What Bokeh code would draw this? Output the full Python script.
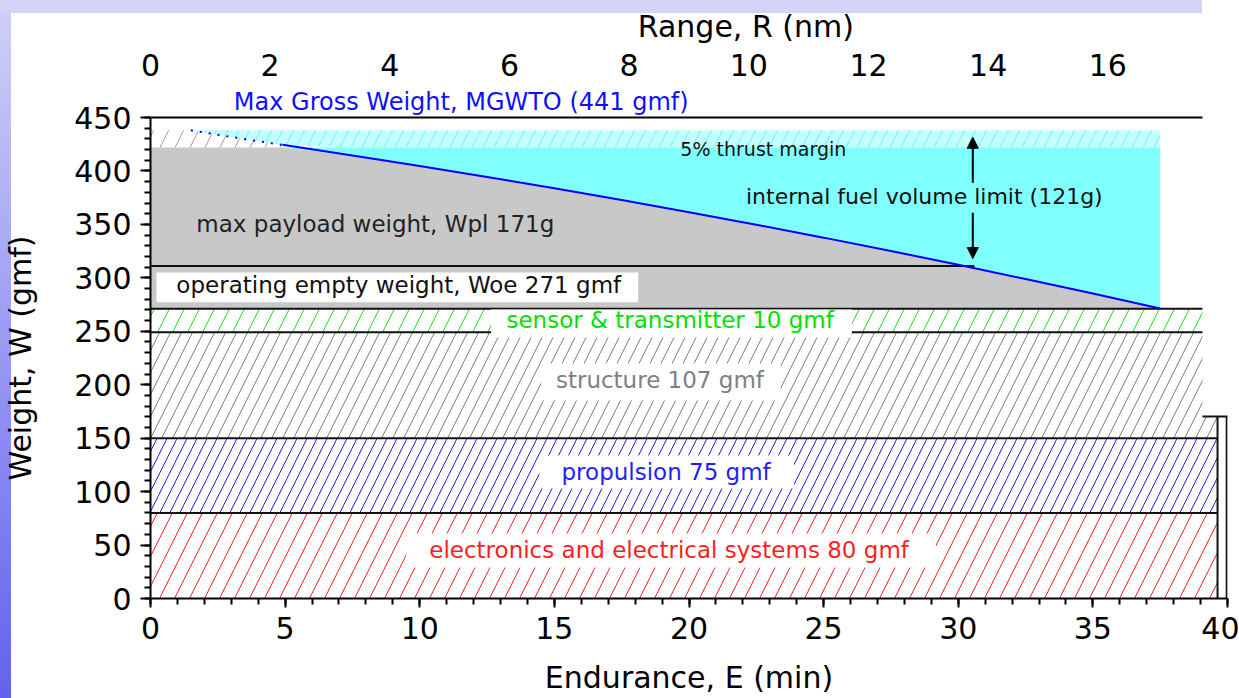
import numpy as np
from bokeh.plotting import figure
from bokeh.models import (Range1d, LinearAxis, SingleIntervalTicker, FixedTicker, Label,
                          Arrow, NormalHead)
from bokeh.embed import file_html
from bokeh.resources import INLINE

# ---------------- data ----------------
# stacked empty-weight components (gmf)
LAYER_NAMES = ["electronics", "propulsion", "structure", "sensor"]
LAYER_BOTTOM = [0, 80, 150, 249]
LAYER_TOP = [80, 150, 249, 271]
LAYER_END_E = 39.63

# internal fuel volume limit curve (Endurance min, Weight gmf)
CURVE_E = [1.5, 2.6, 3.6, 4.9, 7.5, 10.0, 12.5, 15.0, 17.5, 20.0, 22.5, 25.0, 27.5, 30.0,
           32.5, 35.0, 37.5]
CURVE_W = [438, 433.5, 429.3, 424.4, 414.5, 404.6, 394.4, 383.8, 372.8, 361.4, 349.7, 337.6,
           325.1, 312.2, 298.9, 285.3, 271.3]

PAYLOAD_CAP_W = 422      # top of max payload region
THRUST_TOP_W = 438       # top of 5% thrust margin band
WOE_LINE_W = 311
WOE_LINE_END_E = 30.6
RANGE_MAX_NM = 18        # range axis value at E = 40 min
RANGE_TICKS_STEP = 2

# label texts and positions (E, W) inside the plot
LABEL_TEXT = ["5% thrust margin",
              "internal fuel volume limit (121g)", "max payload weight, Wpl 171g",
              "operating empty weight, Woe 271 gmf", "sensor & transmitter 10 gmf",
              "structure 107 gmf", "propulsion 75 gmf",
              "electronics and electrical systems 80 gmf"]
LABEL_E = [22.76, 28.74, 8.35, 9.22, 19.30, 18.92, 19.15, 19.26]
LABEL_W = [420.3, 376.2, 350.3, 293.6, 260.8, 204.0, 118.8, 45.8]
LABEL_COLOR = ["#111111", "#111111", "#222222", "#111111",
               "#00e000", "#808080", "#1e1eff", "#ff1e1e"]
LABEL_SIZE = ["19px", "22px", "23px", "23px", "23px", "23px", "23px", "23px"]

MGW_TEXT = "Max Gross Weight, MGWTO (441 gmf)"
MGW_E = 11.54
RANGE_TITLE = "Range, R (nm)"
RANGE_TITLE_NM = 9.95

# white backgrounds behind labels (E0, E1, W0, W1)
BOX_E0 = [0.22, 12.65, 14.51, 14.44, 9.50]
BOX_E1 = [18.11, 26.05, 23.41, 23.90, 29.17]
BOX_W0 = [277.2, 244.2, 185.2, 102.9, 29.0]
BOX_W1 = [305.0, 270.4, 219.8, 133.8, 60.8]

FONT = "DejaVu Sans"

# ---------------- figure ----------------
bg = ("linear-gradient(#d4d4f8, #d4d4f8) 0 0 / 1202px 13px no-repeat, "
      "linear-gradient(#d0d0f8, #6262ee) 0 0 / 11px 100% no-repeat, #ffffff")

p = figure(width=1239, height=698, x_range=Range1d(0, 40), y_range=Range1d(0, 450),
           output_backend="svg", toolbar_location=None,
           min_border_left=149, min_border_right=12, min_border_top=117, min_border_bottom=100,
           background_fill_color="white", border_fill_color=None, outline_line_color=None,
           styles={"background": bg})
p.grid.visible = False
p.extra_x_ranges = {"range": Range1d(0, RANGE_MAX_NM)}

# stacked hatched layers
hatch_colors = ["#ff2020", "#2020ff", "#808080", "#20e020"]
hatch_scales = [30, 20, 22, 30]
for b, t, hc, hs in zip(LAYER_BOTTOM, LAYER_TOP, hatch_colors, hatch_scales):
    p.quad(left=0, right=LAYER_END_E, bottom=b, top=t, fill_color="white", line_color=None,
           hatch_pattern="/", hatch_color=hc, hatch_scale=hs, hatch_weight=1)

ce = np.array(CURVE_E)
cw = np.array(CURVE_W)

# thrust margin band under the curve (white, gray hatch)
p.quad(left=0, right=6, bottom=PAYLOAD_CAP_W, top=THRUST_TOP_W, fill_color="white",
       line_color=None, hatch_pattern="/", hatch_color="#a0a0a0", hatch_scale=30, hatch_weight=1)

# max payload region (gray)
gx = np.concatenate([[0], ce])
gy2 = np.concatenate([[PAYLOAD_CAP_W], np.minimum(cw, PAYLOAD_CAP_W)])
p.varea(x=gx, y1=LAYER_TOP[-1], y2=gy2, fill_color="#c8c8c8")

# fuel region (cyan) and thrust-margin band (hatched cyan)
p.varea(x=ce, y1=np.maximum(cw, PAYLOAD_CAP_W), y2=THRUST_TOP_W, fill_color="#c4ffff",
        hatch_pattern="/", hatch_color="#6cf4f4", hatch_scale=22, hatch_weight=1)
p.varea(x=ce, y1=np.minimum(cw, PAYLOAD_CAP_W), y2=PAYLOAD_CAP_W, fill_color="#80ffff")

# black boundary lines
p.segment(x0=[0] * len(LAYER_TOP), x1=[LAYER_END_E] * len(LAYER_TOP), y0=LAYER_TOP, y1=LAYER_TOP,
          line_color="#111111", line_width=2)
p.segment(x0=[0], x1=[WOE_LINE_END_E], y0=[WOE_LINE_W], y1=[WOE_LINE_W],
          line_color="#111111", line_width=2)

# fuel volume limit curve
p.line(ce[:4], cw[:4], line_color="#0000ff", line_width=2, line_dash="2 7")
p.line(ce[3:], cw[3:], line_color="#0000ff", line_width=2)

# white label backgrounds
p.quad(left=BOX_E0, right=BOX_E1, bottom=BOX_W0, top=BOX_W1, fill_color="white", line_color=None)

# white cut-out at right and frame remnants
CUT_E = 39.07
CUT_W = 170.3
p.quad(left=CUT_E, right=41, bottom=CUT_W, top=460, fill_color="white", line_color=None)
p.segment(x0=[LAYER_END_E, 39.97, CUT_E], x1=[LAYER_END_E, 39.97, 41], y0=[0, 0, CUT_W],
          y1=[CUT_W, CUT_W, CUT_W], line_color="#111111", line_width=2)

# labels
for txt, e, w, c, s in zip(LABEL_TEXT, LABEL_E, LABEL_W, LABEL_COLOR, LABEL_SIZE):
    p.add_layout(Label(x=e, y=w, text=txt, text_color=c, text_font_size=s, text_font=FONT,
                       text_align="center", text_baseline="middle"))

# double arrow for fuel volume limit
ARROW_E = 30.54
p.add_layout(Arrow(end=NormalHead(size=11, fill_color="black", line_color="black"),
                   x_start=ARROW_E, y_start=389, x_end=ARROW_E, y_end=431.5,
                   line_width=2, line_color="black"))
p.add_layout(Arrow(end=NormalHead(size=11, fill_color="black", line_color="black"),
                   x_start=ARROW_E, y_start=361, x_end=ARROW_E, y_end=318,
                   line_width=2, line_color="black"))

# axes
def style_axis(ax, size="30px"):
    ax.axis_line_color = "black"
    ax.axis_line_width = 2
    ax.major_tick_line_color = "black"
    ax.minor_tick_line_color = "black"
    ax.major_tick_line_width = 2
    ax.minor_tick_line_width = 2
    ax.major_tick_in = 0
    ax.minor_tick_in = 0
    ax.major_label_text_font = FONT
    ax.major_label_text_font_size = size
    ax.major_label_text_color = "black"
    ax.axis_label_text_font = FONT
    ax.axis_label_text_font_size = "30px"
    ax.axis_label_text_font_style = "normal"
    ax.axis_label_text_color = "black"

xa = p.xaxis[0]
xa.ticker = SingleIntervalTicker(interval=5, num_minor_ticks=5)
xa.axis_label = "Endurance, E (min)"
style_axis(xa)
xa.major_tick_out = 9
xa.minor_tick_out = 6
xa.major_label_standoff = 9
xa.axis_label_standoff = 18

ya = p.yaxis[0]
ya.ticker = SingleIntervalTicker(interval=50, num_minor_ticks=5)
ya.axis_label = "Weight, W (gmf)"
style_axis(ya)
ya.major_tick_out = 10
ya.minor_tick_out = 6
ya.major_label_standoff = 9
ya.axis_label_standoff = 33

# top: max gross weight annotation (closest to frame, carries the top frame line)
mgw_axis = LinearAxis(ticker=FixedTicker(ticks=[MGW_E]), bounds=(0, CUT_E),
                      major_label_overrides={MGW_E: MGW_TEXT})
style_axis(mgw_axis, "24px")
mgw_axis.major_label_text_color = "#1010ff"
mgw_axis.major_tick_out = 0
mgw_axis.minor_tick_out = 0
mgw_axis.major_label_standoff = 2
p.add_layout(mgw_axis, "above")

# top: range axis
top = LinearAxis(x_range_name="range", bounds=(0, 17.5),
                 ticker=SingleIntervalTicker(interval=RANGE_TICKS_STEP, num_minor_ticks=0))
style_axis(top)
top.axis_line_color = None
top.major_tick_out = 0
top.minor_tick_out = 0
top.major_label_standoff = 9
p.add_layout(top, "above")

# top: range axis title
title_axis = LinearAxis(x_range_name="range", ticker=FixedTicker(ticks=[RANGE_TITLE_NM]),
                        major_label_overrides={RANGE_TITLE_NM: RANGE_TITLE})
style_axis(title_axis)
title_axis.axis_line_color = None
title_axis.major_tick_out = 0
title_axis.minor_tick_out = 0
title_axis.major_label_standoff = 7
p.add_layout(title_axis, "above")

open("out.html", "w").write(file_html(p, INLINE))
